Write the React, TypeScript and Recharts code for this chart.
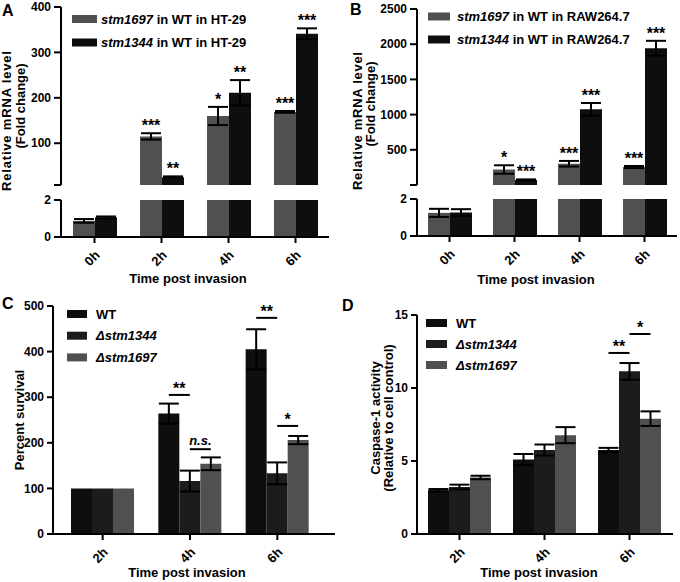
import React from 'react';
import { BarChart, Bar, XAxis, YAxis, ErrorBar, LabelList } from 'recharts';

const FONT = '"Liberation Sans", Arial, Helvetica, sans-serif';
const GRAY = '#505050';
const BLACK = '#0e0e0e';
const DARK = '#1c1c1c';

// A - fold change in HT-29
const timesAB = ['0h', '2h', '4h', '6h'];
const ht1697 = [0.87, 115, 160, 169];
const ht1697Err = [0.1, 7, 20, 2];
const ht1697Stars = ['', '***', '*', '***'];
const ht1344 = [1.06, 25, 211, 341];
const ht1344Err = [0.05, 2, 28, 12];
const ht1344Stars = ['', '**', '**', '***'];
const ticksA = [8, 100, 200, 300, 400];

// B - fold change in RAW264.7
const raw1697 = [1.25, 220, 302, 255];
const raw1697Err = [0.22, 60, 40, 15];
const raw1697Stars = ['', '*', '***', '***'];
const raw1344 = [1.27, 72, 1075, 1943];
const raw1344Err = [0.18, 8, 90, 105];
const raw1344Stars = ['', '***', '***', '***'];
const ticksB = [0, 500, 1000, 1500, 2000, 2500];

const ticksLow = [0, 2];

// C - percent survival
const timesCD = ['2h', '4h', '6h'];
const survWT = [100, 264, 405];
const survWTErr = [0, 22, 44];
const surv1344 = [100, 116, 133];
const surv1344Err = [0, 23, 24];
const surv1697 = [100, 154, 206];
const surv1697Err = [0, 14, 9];
const ticksC = [0, 100, 200, 300, 400, 500];
const sigC = [
  { t: '4h', from: 0, level: 305, text: '**' },
  { t: '4h', from: 1, level: 186, text: 'n.s.' },
  { t: '6h', from: 0, level: 474, text: '**' },
  { t: '6h', from: 1, level: 237, text: '*' },
];

// D - caspase-1 activity
const caspWT = [3.0, 5.1, 5.75];
const caspWTErr = [0.08, 0.38, 0.15];
const casp1344 = [3.22, 5.75, 11.14];
const casp1344Err = [0.16, 0.38, 0.57];
const casp1697 = [3.87, 6.77, 7.9];
const casp1697Err = [0.12, 0.55, 0.5];
const ticksD = [0, 5, 10, 15];
const sigD = [
  { t: '6h', from: 0, level: 12.4, text: '**' },
  { t: '6h', from: 1, level: 13.7, text: '*' },
];

type Series = {
  key: string;
  name: string;
  rest?: string;
  color: string;
  vals: number[];
  errs: number[];
  stars?: string[];
};
type Sig = { t: string; from: number; level: number; text: string };

const seriesA: Series[] = [
  { key: 'g', name: 'stm1697', rest: ' in WT in HT-29', color: GRAY, vals: ht1697, errs: ht1697Err, stars: ht1697Stars },
  { key: 'k', name: 'stm1344', rest: ' in WT in HT-29', color: BLACK, vals: ht1344, errs: ht1344Err, stars: ht1344Stars },
];
const seriesB: Series[] = [
  { key: 'g', name: 'stm1697', rest: ' in WT in RAW264.7', color: GRAY, vals: raw1697, errs: raw1697Err, stars: raw1697Stars },
  { key: 'k', name: 'stm1344', rest: ' in WT in RAW264.7', color: BLACK, vals: raw1344, errs: raw1344Err, stars: raw1344Stars },
];
const seriesC: Series[] = [
  { key: 'wt', name: 'WT', color: BLACK, vals: survWT, errs: survWTErr },
  { key: 'd44', name: '\u0394stm1344', color: DARK, vals: surv1344, errs: surv1344Err },
  { key: 'd97', name: '\u0394stm1697', color: GRAY, vals: surv1697, errs: surv1697Err },
];
const seriesD: Series[] = [
  { key: 'wt', name: 'WT', color: BLACK, vals: caspWT, errs: caspWTErr },
  { key: 'd44', name: '\u0394stm1344', color: DARK, vals: casp1344, errs: casp1344Err },
  { key: 'd97', name: '\u0394stm1697', color: GRAY, vals: casp1697, errs: casp1697Err },
];

const txt = { fontFamily: FONT, fontWeight: 700, fill: '#000' } as const;
const tickFont = { ...txt, fontSize: 12 };
const AX = { stroke: '#000', strokeWidth: 2 };

const RotTick = (p: any) => {
  const x = Number(p.x) + 6;
  const y = Number(p.y) + 11;
  return (
    <text x={x} y={y} transform={`rotate(-45 ${x} ${y})`} textAnchor="end" style={txt} fontSize={13}>
      {p.payload.value}
    </text>
  );
};

const starLabel = (cats: string[], s: Series, base: number) => (p: any) => {
  const i = cats.indexOf(p.value);
  const mark = s.stars ? s.stars[i] : '';
  if (!mark) return null;
  const cx = Number(p.x) + Number(p.width) / 2;
  const k = Number(p.height) / (s.vals[i] - base);
  const top = Number(p.y) - s.errs[i] * k;
  return (
    <text x={cx} y={top - 2} textAnchor="middle" style={txt} fontSize={16}>
      {mark}
    </text>
  );
};

const sigLabel = (cats: string[], s: Series, idx: number, sigs: Sig[]) => (p: any) => {
  const i = cats.indexOf(p.value);
  const marks = sigs.filter((g) => g.t === p.value && g.from === idx);
  if (i < 0 || !marks.length) return null;
  const w = Number(p.width);
  const x1 = Number(p.x) + w / 2;
  const x2 = x1 + w;
  const k = Number(p.height) / s.vals[i];
  const bottom = Number(p.y) + Number(p.height);
  return (
    <g>
      {marks.map((m) => {
        const yy = bottom - m.level * k;
        const ns = m.text === 'n.s.';
        return (
          <g key={m.text + m.from}>
            <line x1={x1} x2={x2} y1={yy} y2={yy} stroke="#000" strokeWidth={2} />
            <text
              x={(x1 + x2) / 2}
              y={ns ? yy - 4 : yy - 1}
              textAnchor="middle"
              style={txt}
              fontSize={ns ? 13 : 16}
              fontStyle={ns ? 'italic' : 'normal'}
            >
              {m.text}
            </text>
          </g>
        );
      })}
    </g>
  );
};

type BrokenProps = {
  left: number;
  series: Series[];
  upMin: number;
  upMax: number;
  upTicks: number[];
  upTop: number;
  upBottom: number;
  lowTop: number;
  lowBottom: number;
  plotLeft: number;
  plotRight: number;
};

function BrokenPanel({ left, series, upMin, upMax, upTicks, upTop, upBottom, lowTop, lowBottom, plotLeft, plotRight }: BrokenProps) {
  const W = 340;
  const YW = 40;
  const upper = timesAB.map((t, i) => {
    const r: any = { t };
    series.forEach((s) => {
      const v = s.vals[i];
      r[s.key] = v > 2 ? v : null;
      r[s.key + 'E'] = v > 2 ? s.errs[i] : null;
    });
    return r;
  });
  const lower = timesAB.map((t, i) => {
    const r: any = { t };
    series.forEach((s) => {
      const v = s.vals[i];
      r[s.key] = Math.min(v, 2);
      r[s.key + 'E'] = v > 2 ? null : s.errs[i];
    });
    return r;
  });
  const ml = plotLeft - left - YW;
  const mr = left + W - plotRight;
  const lowDivTop = lowTop - 10;
  const lowH = 300 - lowDivTop;
  return (
    <>
      <div style={{ position: 'absolute', left, top: 0 }}>
        <BarChart width={W} height={upBottom + 5} data={upper} margin={{ top: upTop, right: mr, left: ml, bottom: 5 }} barGap={0} barSize={22}>
          <XAxis dataKey="t" hide />
          <YAxis
            width={YW}
            domain={[upMin, upMax]}
            ticks={upTicks}
            allowDataOverflow
            interval={0}
            stroke="#000"
            axisLine={AX}
            tickLine={AX}
            tickSize={7}
            tickMargin={3}
            tick={tickFont}
            tickFormatter={(v: number) => (v === upMin ? '' : String(v))}
          />
          {series.map((s) => (
            <Bar key={s.key} dataKey={s.key} fill={s.color} isAnimationActive={false}>
              <ErrorBar dataKey={s.key + 'E'} width={10} strokeWidth={2} stroke="#000" direction="y" />
              <LabelList dataKey="t" content={starLabel(timesAB, s, upMin)} />
            </Bar>
          ))}
        </BarChart>
      </div>
      <div style={{ position: 'absolute', left, top: lowDivTop }}>
        <BarChart
          width={W}
          height={lowH}
          data={lower}
          margin={{ top: 10, right: mr, left: ml, bottom: lowH - (lowBottom - lowDivTop) - 50 }}
          barGap={0}
          barSize={22}
        >
          <XAxis dataKey="t" height={50} stroke="#000" axisLine={AX} tickLine={AX} tickSize={6} tick={<RotTick />} interval={0} />
          <YAxis
            width={YW}
            domain={[0, 2]}
            ticks={ticksLow}
            allowDataOverflow
            stroke="#000"
            axisLine={AX}
            tickLine={AX}
            tickSize={7}
            tickMargin={3}
            tick={tickFont}
          />
          {series.map((s) => (
            <Bar key={s.key} dataKey={s.key} fill={s.color} isAnimationActive={false}>
              <ErrorBar dataKey={s.key + 'E'} width={10} strokeWidth={2} stroke="#000" direction="y" />
            </Bar>
          ))}
        </BarChart>
      </div>
    </>
  );
}

type GroupProps = {
  left: number;
  top: number;
  margin: { top: number; right: number; left: number; bottom: number };
  padding: { left: number; right: number };
  domain: [number, number];
  ticks: number[];
  series: Series[];
  sigs: Sig[];
};

function GroupPanel({ left, top, margin, padding, domain, ticks, series, sigs }: GroupProps) {
  const data = timesCD.map((t, i) => {
    const r: any = { t };
    series.forEach((s) => {
      r[s.key] = s.vals[i];
      r[s.key + 'E'] = s.errs[i];
    });
    return r;
  });
  return (
    <div style={{ position: 'absolute', left, top }}>
      <BarChart width={340} height={287} data={data} margin={margin} barGap={0} barSize={21}>
        <XAxis dataKey="t" height={40} padding={padding} stroke="#000" axisLine={AX} tickLine={AX} tickSize={6} tick={<RotTick />} interval={0} />
        <YAxis
          width={40}
          domain={domain}
          ticks={ticks}
          interval={0}
          stroke="#000"
          axisLine={AX}
          tickLine={AX}
          tickSize={6}
          tickMargin={3}
          tick={tickFont}
        />
        {series.map((s, idx) => (
          <Bar key={s.key} dataKey={s.key} fill={s.color} isAnimationActive={false}>
            <ErrorBar dataKey={s.key + 'E'} width={10} strokeWidth={2} stroke="#000" direction="y" />
            <LabelList dataKey="t" content={sigLabel(timesCD, s, idx, sigs)} />
          </Bar>
        ))}
      </BarChart>
    </div>
  );
}

const RotText = ({ x, y, len, children }: { x: number; y: number; len?: number; children: React.ReactNode }) => (
  <text
    x={x}
    y={y}
    transform={`rotate(-90 ${x} ${y})`}
    textAnchor="middle"
    style={txt}
    fontSize={13}
    textLength={len}
    lengthAdjust={len ? 'spacing' : undefined}
  >
    {children}
  </text>
);

const LegendRows = ({ x, y0, dy, boxW, gap, series }: { x: number; y0: number; dy: number; boxW: number; gap: number; series: Series[] }) => (
  <g>
    {series.map((s, i) => {
      const cy = y0 + i * dy;
      const italicName = s.name !== 'WT';
      return (
        <g key={s.key}>
          <rect x={x} y={cy - 4} width={boxW} height={8} fill={s.color} />
          <text x={x + boxW + gap} y={cy + 4.5} style={txt} fontSize={13}>
            <tspan fontStyle={italicName ? 'italic' : 'normal'}>{s.name}</tspan>
            {s.rest ? <tspan>{s.rest}</tspan> : null}
          </text>
        </g>
      );
    })}
  </g>
);

export default function App() {
  return (
    <div style={{ position: 'absolute', left: 0, top: 0, width: 680, height: 582, background: '#fff', fontFamily: FONT }}>
      <BrokenPanel
        left={0}
        series={seriesA}
        upMin={8}
        upMax={400}
        upTicks={ticksA}
        upTop={7}
        upBottom={185}
        lowTop={200}
        lowBottom={237}
        plotLeft={61}
        plotRight={329}
      />
      <BrokenPanel
        left={340}
        series={seriesB}
        upMin={0}
        upMax={2500}
        upTicks={ticksB}
        upTop={9}
        upBottom={185}
        lowTop={199}
        lowBottom={236}
        plotLeft={417}
        plotRight={677}
      />
      <GroupPanel
        left={0}
        top={295}
        margin={{ top: 11, right: 5, left: 13, bottom: 8 }}
        padding={{ left: 6, right: 14 }}
        domain={[0, 500]}
        ticks={ticksC}
        series={seriesC}
        sigs={sigC}
      />
      <GroupPanel
        left={340}
        top={295}
        margin={{ top: 20, right: 7, left: 37, bottom: 8 }}
        padding={{ left: 0, right: 1 }}
        domain={[0, 15]}
        ticks={ticksD}
        series={seriesD}
        sigs={sigD}
      />
      <svg width={680} height={582} style={{ position: 'absolute', left: 0, top: 0, pointerEvents: 'none' }}>
        <text x={2} y={16} style={txt} fontSize={16}>A</text>
        <text x={350} y={15} style={txt} fontSize={16}>B</text>
        <text x={2} y={309} style={txt} fontSize={16}>C</text>
        <text x={342} y={311} style={txt} fontSize={16}>D</text>

        <RotText x={11} y={121} len={140}>Relative mRNA level</RotText>
        <RotText x={25} y={106}>(Fold change)</RotText>
        <RotText x={362} y={121} len={138}>Relative mRNA level</RotText>
        <RotText x={375} y={104}>(Fold change)</RotText>
        <RotText x={24} y={420}>Percent survival</RotText>
        <RotText x={380} y={418}>Caspase-1 activity</RotText>
        <RotText x={393} y={418}>(Relative to cell control)</RotText>

        <text x={188} y={283} textAnchor="middle" style={txt} fontSize={13}>Time post invasion</text>
        <text x={536} y={284} textAnchor="middle" style={txt} fontSize={13}>Time post invasion</text>
        <text x={187} y={577} textAnchor="middle" style={txt} fontSize={13}>Time post invasion</text>
        <text x={539} y={577} textAnchor="middle" style={txt} fontSize={13}>Time post invasion</text>

        <LegendRows x={72} y0={19} dy={23.5} boxW={25} gap={4} series={seriesA} />
        <LegendRows x={428} y0={16.5} dy={23} boxW={22} gap={7} series={seriesB} />
        <LegendRows x={67} y0={314} dy={21.7} boxW={20} gap={9} series={seriesC} />
        <LegendRows x={426} y0={323} dy={21} boxW={21} gap={9} series={seriesD} />
      </svg>
    </div>
  );
}
